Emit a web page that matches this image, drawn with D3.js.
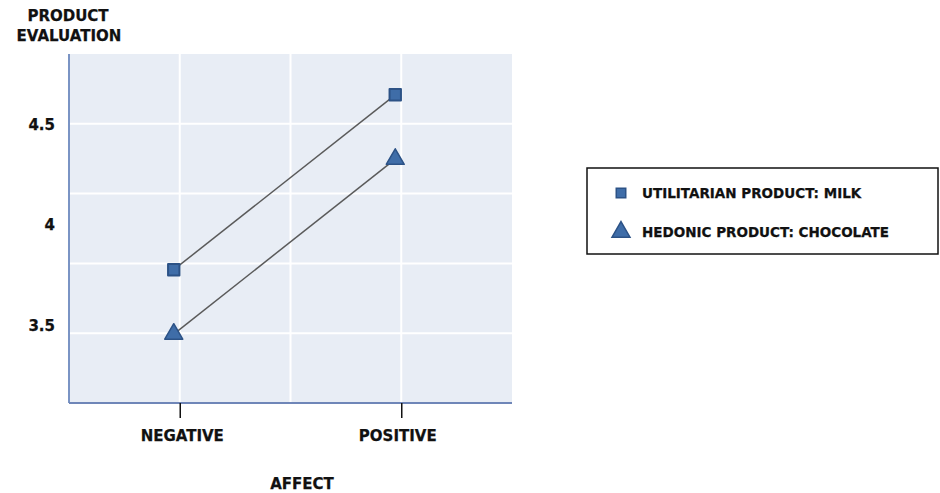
<!DOCTYPE html>
<html>
<head>
<meta charset="utf-8">
<script src="https://cdn.jsdelivr.net/npm/d3@7"></script>
<style>
body{margin:0;background:#fff;}
text{font-family:"DejaVu Sans","Liberation Sans",sans-serif;font-weight:bold;fill:#111;stroke:#111;stroke-width:0.25px;}
</style>
</head>
<body>
<div id="chart"></div>
<script>
var categories = ['NEGATIVE', 'POSITIVE'];
var seriesNames = ['UTILITARIAN PRODUCT: MILK', 'HEDONIC PRODUCT: CHOCOLATE'];
var milk = [3.78, 4.65];
var chocolate = [3.46, 4.33];
var yTicks = [3.5, 4, 4.5];
var yTickLabels = ['3.5', '4', '4.5'];

var width = 940, height = 493;
var plot = {left: 69, right: 512, top: 54, bottom: 403};

var svg = d3.select('#chart').append('svg')
	.attr('width', width)
	.attr('height', height);

var x = d3.scalePoint().domain(categories).range([plot.left, plot.right]).padding(0.5);
var y = d3.scaleLinear().domain([3.117, 4.853]).range([plot.bottom, plot.top]);
// grid of the plot panel is an even split, not tied to the value ticks
var gx = d3.scaleLinear().domain([0, 4]).range([plot.left, plot.right]);
var gy = d3.scaleLinear().domain([0, 5]).range([plot.bottom, plot.top]);

svg.append('rect')
	.attr('x', plot.left).attr('y', plot.top)
	.attr('width', plot.right - plot.left).attr('height', plot.bottom - plot.top)
	.attr('fill', '#e8edf5');

svg.selectAll('.hgrid').data([1, 2, 3, 4]).enter().append('line')
	.attr('x1', plot.left).attr('x2', plot.right)
	.attr('y1', function(d){ return gy(d); }).attr('y2', function(d){ return gy(d); })
	.attr('stroke', '#fff').attr('stroke-width', 2);
svg.selectAll('.vgrid').data([1, 2, 3]).enter().append('line')
	.attr('y1', plot.top).attr('y2', plot.bottom)
	.attr('x1', function(d){ return gx(d); }).attr('x2', function(d){ return gx(d); })
	.attr('stroke', '#fff').attr('stroke-width', 2);

// axis lines
svg.append('line')
	.attr('x1', plot.left).attr('x2', plot.left)
	.attr('y1', plot.top).attr('y2', plot.bottom)
	.attr('stroke', '#7a94c4').attr('stroke-width', 2);
svg.append('line')
	.attr('x1', plot.left).attr('x2', plot.right)
	.attr('y1', plot.bottom).attr('y2', plot.bottom)
	.attr('stroke', '#6f86b8').attr('stroke-width', 2);

// y labels
svg.selectAll('.ylab').data(yTicks).enter().append('text')
	.attr('x', 55)
	.attr('y', function(d){ return y(d) + 5; })
	.attr('text-anchor', 'end')
	.attr('font-size', 15)
	.text(function(d, i){ return yTickLabels[i]; });

// x ticks + labels
var xAxis = d3.axisBottom(x).tickSize(15).tickPadding(10);
var gAxis = svg.append('g')
	.attr('transform', 'translate(0,' + plot.bottom + ')')
	.call(xAxis);
gAxis.select('.domain').remove();
gAxis.selectAll('.tick line').attr('stroke', '#111').attr('stroke-width', 1.5);
gAxis.selectAll('.tick text')
	.attr('font-size', 15).attr('font-family', '"DejaVu Sans",sans-serif')
	.attr('font-weight', 'bold').attr('fill', '#111')
	.attr('dy', '0.85em');
gAxis.selectAll('.tick text').attr('x', function(d, i){ return i == 0 ? 2 : -4; });

svg.append('text').attr('x', 302).attr('y', 489).attr('text-anchor', 'middle')
	.attr('font-size', 15).text('AFFECT');
svg.append('text').attr('x', 68).attr('y', 21).attr('text-anchor', 'middle')
	.attr('font-size', 15).text('PRODUCT');
svg.append('text').attr('x', 69).attr('y', 41).attr('text-anchor', 'middle')
	.attr('font-size', 15).text('EVALUATION');

// lines + markers
var series = [milk, chocolate];
var shift = -6;
var line = d3.line()
	.x(function(d, i){ return x(categories[i]) + shift; })
	.y(function(d){ return y(d); });

series.forEach(function(s){
	svg.append('path').datum(s)
		.attr('d', line)
		.attr('fill', 'none')
		.attr('stroke', '#5a5a5a')
		.attr('stroke-width', 1.5);
});

var square = d3.symbol().type(d3.symbolSquare).size(130);
var triangle = d3.symbol().type(d3.symbolTriangle).size(140);
var smallSquare = d3.symbol().type(d3.symbolSquare).size(90);
var markerFill = '#3f6da8', markerStroke = '#2c5286';

svg.selectAll('.sq').data(milk).enter().append('path')
	.attr('d', square)
	.attr('transform', function(d, i){ return 'translate(' + (x(categories[i]) + shift) + ',' + y(d) + ')'; })
	.attr('fill', markerFill).attr('stroke', markerStroke).attr('stroke-width', 2)
	.attr('stroke-linejoin', 'round');
svg.selectAll('.tri').data(chocolate).enter().append('path')
	.attr('d', triangle)
	.attr('transform', function(d, i){ return 'translate(' + (x(categories[i]) + shift) + ',' + y(d) + ')'; })
	.attr('fill', markerFill).attr('stroke', markerStroke).attr('stroke-width', 1.5)
	.attr('stroke-linejoin', 'round');

// legend
var legend = svg.append('g');
legend.append('rect')
	.attr('x', 587).attr('y', 168).attr('width', 351).attr('height', 86)
	.attr('fill', '#fff').attr('stroke', '#111').attr('stroke-width', 1.5);
var legendSymbols = [smallSquare, triangle];
seriesNames.forEach(function(name, i){
	var ly = 193 + i * 39;
	legend.append('path')
		.attr('d', legendSymbols[i])
		.attr('transform', 'translate(621,' + ly + ')')
		.attr('fill', markerFill).attr('stroke', markerStroke).attr('stroke-width', 1.5);
	legend.append('text')
		.attr('x', 642).attr('y', ly + 5)
		.attr('font-size', 13.5)
		.text(name);
});
</script>
</body>
</html>
